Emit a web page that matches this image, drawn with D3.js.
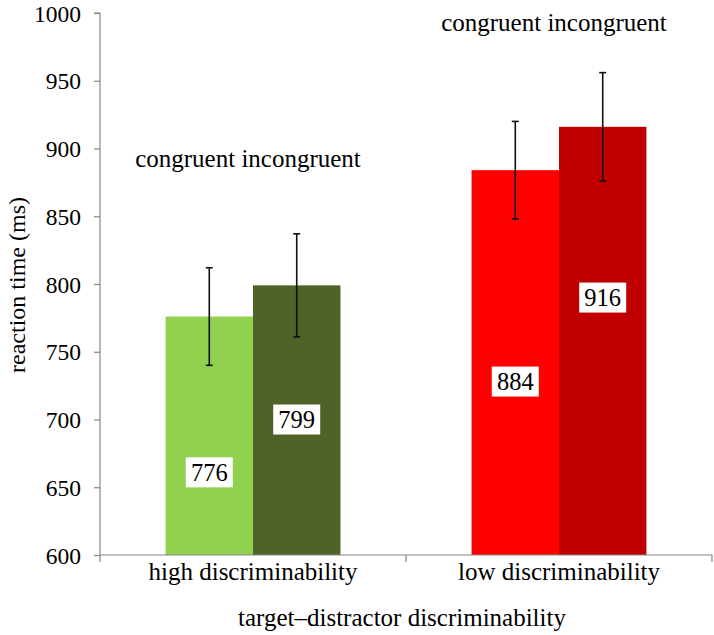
<!DOCTYPE html>
<html>
<head>
<meta charset="utf-8">
<script src="https://cdn.jsdelivr.net/npm/d3@7"></script>
<style>
  html, body { margin: 0; padding: 0; background: #fff; }
  svg { display: block; }
  svg text { font-family: "Liberation Serif", "Times New Roman", serif; }
</style>
</head>
<body>
<svg id="chart" width="714" height="635"></svg>
<script>
// ---- data ----
const categories = ["high discriminability", "low discriminability"];
const series = ["congruent", "incongruent"];
const congruentValues = [776, 884];
const incongruentValues = [799, 916];
const congruentErrors = [36, 36];
const incongruentErrors = [38, 40];
const congruentLabelAt = [661, 728];
const incongruentLabelAt = [700, 790];
const groupNoteAt = [886, 987];
const yTicks = [600, 650, 700, 750, 800, 850, 900, 950, 1000];
const colors = {
  "high discriminability": ["#92D050", "#4F6228"],
  "low discriminability": ["#FF0000", "#C00000"]
};

// ---- layout ----
const svg = d3.select("#chart");
const plotLeft = 100, plotRight = 712, plotTop = 13, plotBottom = 555;
const axisColor = "#868686";
const serif = "Liberation Serif";

const x = d3.scaleBand().domain(categories).range([plotLeft, plotRight]).paddingInner(0).paddingOuter(0);
const xs = d3.scaleBand().domain(series).range([0, x.bandwidth()]).paddingInner(0).paddingOuter(0.75);
const y = d3.scaleLinear().domain([600, 1000]).range([plotBottom, plotTop]);

const rows = [];
categories.forEach((c, i) => {
  rows.push({cat: c, s: "congruent", v: congruentValues[i], e: congruentErrors[i], lab: congruentLabelAt[i], color: colors[c][0]});
  rows.push({cat: c, s: "incongruent", v: incongruentValues[i], e: incongruentErrors[i], lab: incongruentLabelAt[i], color: colors[c][1]});
});

// bars
svg.append("g").selectAll("rect").data(rows).join("rect")
  .attr("x", d => x(d.cat) + xs(d.s))
  .attr("width", xs.bandwidth())
  .attr("y", d => y(d.v))
  .attr("height", d => y(600) - y(d.v))
  .attr("fill", d => d.color);

// error bars
const eg = svg.append("g").attr("stroke", "#111").attr("stroke-width", 1.6);
rows.forEach(d => {
  const cx = x(d.cat) + xs(d.s) + xs.bandwidth() / 2;
  eg.append("line").attr("x1", cx).attr("x2", cx).attr("y1", y(d.v + d.e)).attr("y2", y(d.v - d.e));
  [d.v + d.e, d.v - d.e].forEach(v => {
    eg.append("line").attr("x1", cx - 3.5).attr("x2", cx + 3.5).attr("y1", y(v)).attr("y2", y(v));
  });
});

// value labels
rows.forEach(d => {
  const cx = x(d.cat) + xs(d.s) + xs.bandwidth() / 2;
  const cy = y(d.lab);
  svg.append("rect").attr("x", cx - 23.5).attr("y", cy - 15).attr("width", 47).attr("height", 30).attr("fill", "#fff");
  svg.append("text").attr("x", cx).attr("y", cy + 8.5).attr("text-anchor", "middle")
    .style("font-family", serif).attr("font-size", 24.5).attr("fill", "#000").text(d.v);
});

// group notes
categories.forEach((c, i) => {
  svg.append("text")
    .attr("x", x(c) + x.bandwidth() / 2 - 5)
    .attr("y", y(groupNoteAt[i]))
    .attr("text-anchor", "middle")
    .style("font-family", serif)
    .attr("font-size", 25)
    .attr("fill", "#000")
    .text(series.join(" "));
});

// y axis
const yAxis = svg.append("g").attr("transform", `translate(${plotLeft},0)`)
  .call(d3.axisLeft(y).tickValues(yTicks).tickSize(6).tickPadding(13).tickFormat(d3.format("d")));
yAxis.selectAll("path, line").attr("stroke", axisColor).attr("stroke-width", 1.2);
yAxis.select(".domain").attr("d", `M-6,${plotTop}H0V${plotBottom}`);
yAxis.selectAll("text").style("font-family", serif).attr("font-size", 23.5).attr("fill", "#000").attr("dy", "0.34em");

// x axis
const xAxis = svg.append("g").attr("transform", `translate(0,${plotBottom})`)
  .call(d3.axisBottom(x).tickSize(0).tickPadding(7));
xAxis.select(".domain").attr("stroke", axisColor).attr("stroke-width", 1.2).attr("d", `M${plotLeft},0H${plotRight}`);
xAxis.selectAll("text").style("font-family", serif).attr("font-size", 25).attr("fill", "#000");
const bounds = [plotLeft].concat(categories.map(c => x(c) + x.bandwidth()));
xAxis.selectAll(".bound").data(bounds).join("line").attr("class", "bound")
  .attr("x1", d => d).attr("x2", d => d).attr("y1", 0).attr("y2", 7)
  .attr("stroke", axisColor).attr("stroke-width", 1.2);

// axis titles
svg.append("text").attr("x", (plotLeft + plotRight) / 2 - 4).attr("y", 626).attr("text-anchor", "middle")
  .style("font-family", serif).attr("font-size", 25).attr("fill", "#000").text("target–distractor discriminability");
svg.append("text").attr("transform", `translate(25,${285}) rotate(-90)`).attr("text-anchor", "middle")
  .style("font-family", serif).attr("font-size", 24).attr("fill", "#000").text("reaction time (ms)");
</script>
</body>
</html>
